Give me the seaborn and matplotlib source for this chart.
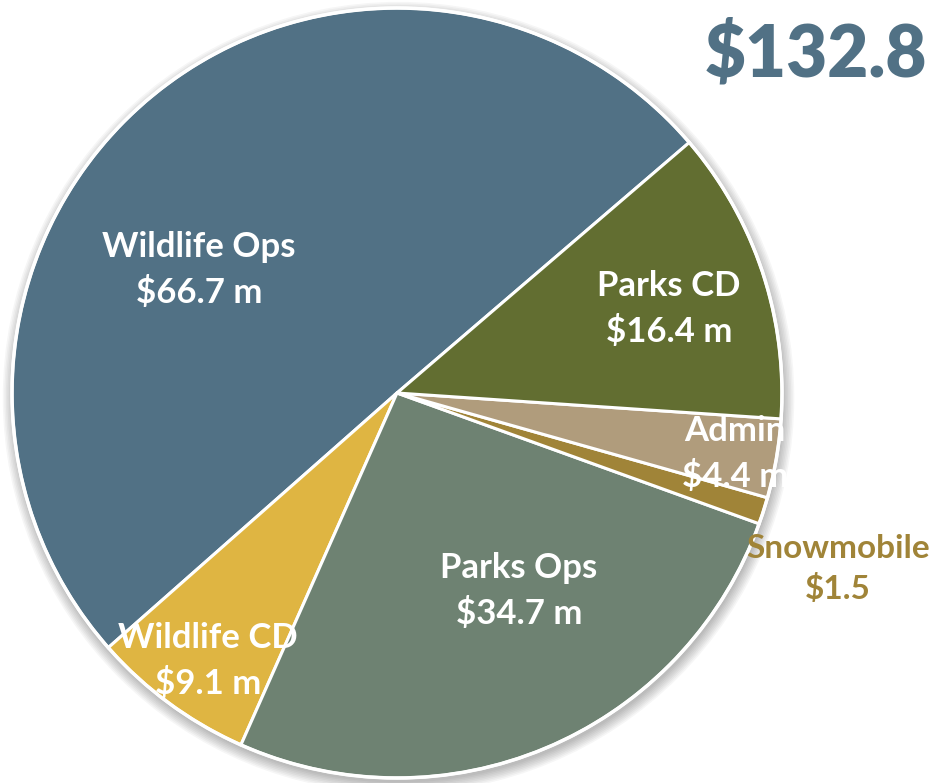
import matplotlib
matplotlib.use("Agg")
import matplotlib.pyplot as plt
import matplotlib.patches as mpatches
import seaborn as sns

sns.set_theme(style="white")
plt.rcParams['font.family'] = ['Lato', 'DejaVu Sans']

# Budget data ($ millions)
categories = ['Wildlife Ops', 'Wildlife CD', 'Parks Ops', 'Snowmobile', 'Admin', 'Parks CD']
values = [66.7, 9.1, 34.7, 1.5, 4.4, 16.4]
value_labels = ['$66.7 m', '$9.1 m', '$34.7 m', '$1.5', '$4.4 m', '$16.4 m']
total_label = '$132.8'

colors = ['#517185', '#dfb542', '#6e8272', '#a08438', '#b09c7c', '#626e31']

W, H = 932, 783
cx, cy, R = 397, 393, 385

fig = plt.figure(figsize=(W / 100, H / 100), dpi=100)
ax = fig.add_axes([0, 0, 1, 1])

# soft shadow under the pie
for i in range(8):
    ax.add_patch(mpatches.Circle((0.004, -0.012), 1.0 + 0.004 * i,
                                 color='black', alpha=0.035, lw=0, zorder=0))

wedges, _ = ax.pie(values, colors=colors, startangle=40.6, counterclock=True,
                   radius=1.0, center=(0, 0),
                   wedgeprops=dict(edgecolor='white', linewidth=2.2))
ax.add_patch(mpatches.Circle((0, 0), 1.0, fill=False, ec='white', lw=2.5, zorder=3))

ax.set_xlim(-cx / R, (W - cx) / R)
ax.set_ylim(-(H - cy) / R, cy / R)
ax.set_aspect('equal')
ax.axis('off')


def px(x, y):
    return (x - cx) / R, (cy - y) / R


# label placement in pixel space of the reference
label_pos = {
    'Wildlife Ops': (199, 270),
    'Wildlife CD': (208, 661),
    'Parks Ops': (519, 591),
    'Snowmobile': (838, 569),
    'Admin': (735, 454),
    'Parks CD': (669, 309),
}

clip = mpatches.Rectangle(px(0, 783), (785 - 0) / R, 783 / R, transform=ax.transData)

for name, val in zip(categories, value_labels):
    x, y = px(*label_pos[name])
    if name == 'Snowmobile':
        t = ax.text(x, y, f'{name}\n{val}', ha='center', va='center',
                    fontsize=24, fontweight='bold', color='#a08438',
                    linespacing=1.4, zorder=5)
    else:
        t = ax.text(x, y, f'{name}\n{val}', ha='center', va='center',
                    fontsize=25, fontweight='bold', color='white',
                    linespacing=1.45, zorder=5)
    if name == 'Admin':
        t.set_clip_path(clip)

tx, ty = px(927, 55)
ax.text(tx, ty, total_label, ha='right', va='center', fontsize=51,
        fontweight='heavy', color='#517185', zorder=5)

fig.savefig('out.png', dpi=100)
